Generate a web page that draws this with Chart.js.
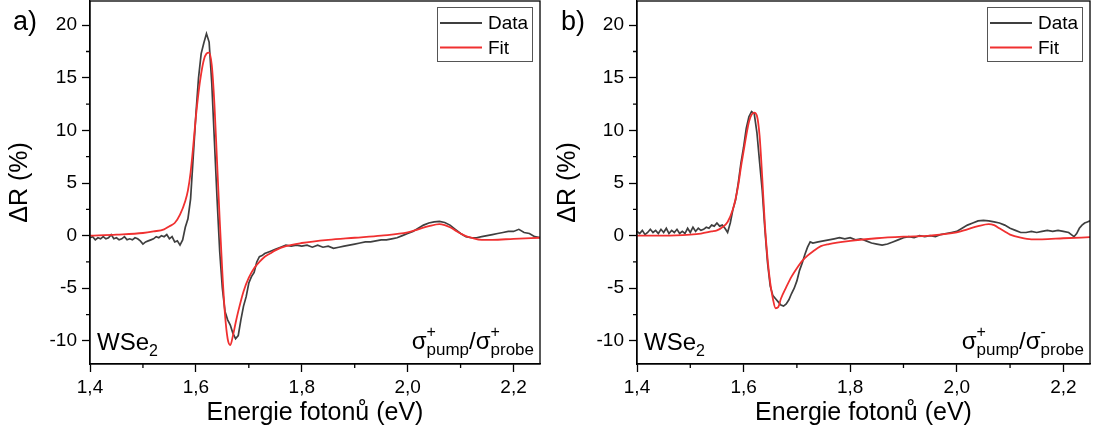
<!DOCTYPE html>
<html>
<head>
<meta charset="utf-8">
<script src="https://cdn.jsdelivr.net/npm/chart.js@4"></script>
<style>
body { margin: 0; background: #fff; }
#wrap { position: relative; width: 1096px; height: 439px; }
canvas { position: absolute; top: 0; }
</style>
</head>
<body>
<div id="wrap">
  <canvas id="chartA" width="548" height="439" style="left:0"></canvas>
  <canvas id="chartB" width="548" height="439" style="left:548px"></canvas>
</div>
<script>
// axis ticks
var xTicks = [1.4, 1.6, 1.8, 2.0, 2.2];
var xMinor = [1.5, 1.7, 1.9, 2.1];
var yTicks = [-10, -5, 0, 5, 10, 15, 20];
var yMinor = [-7.5, -2.5, 2.5, 7.5, 12.5, 17.5];

// panel a) - sigma+ / sigma+
var dataAE = [1.400,1.405,1.410,1.415,1.420,1.425,1.430,1.435,1.440,1.445,1.450,1.455,1.460,1.465,1.470,1.475,1.480,1.485,1.490,1.495,
  1.500,1.505,1.510,1.515,1.520,1.525,1.530,1.535,1.540,1.545,1.550,1.555,1.560,1.565,1.570,1.575,1.580,1.585,1.590,1.595,
  1.600,1.605,1.610,1.615,1.620,1.625,1.630,1.635,1.640,1.645,1.650,1.655,1.660,1.665,1.670,1.675,1.680,1.685,1.690,1.695,
  1.700,1.705,1.710,1.715,1.720,1.725,1.730,1.740,1.750,1.760,1.770,1.780,1.790,1.800,1.810,1.820,1.830,1.840,1.850,1.860,
  1.870,1.880,1.890,1.900,1.910,1.920,1.930,1.940,1.950,1.960,1.970,1.980,1.990,2.000,2.010,2.020,2.030,2.040,2.050,2.060,
  2.070,2.080,2.090,2.100,2.110,2.120,2.130,2.140,2.150,2.160,2.170,2.180,2.190,2.200,2.210,2.220,2.230,2.240,2.250];
var dataAV = [-0.2,-0.1,-0.4,-0.2,-0.3,-0.1,-0.3,-0.2,0.1,-0.3,-0.2,-0.4,-0.3,-0.1,-0.4,-0.3,-0.4,-0.2,-0.3,-0.5,
  -0.8,-0.6,-0.5,-0.4,-0.3,-0.1,-0.2,0.0,-0.1,0.1,-0.3,-0.1,-0.6,-0.5,-0.9,-0.4,0.8,1.6,3.5,7.5,
  11.5,15.0,17.3,18.3,19.2,18.4,14.5,9.0,3.5,-1.5,-5.0,-7.2,-8.0,-8.5,-9.3,-9.8,-9.5,-8.0,-6.7,-5.8,
  -4.5,-3.9,-3.5,-2.5,-2.0,-1.9,-1.7,-1.5,-1.3,-1.1,-0.9,-1.0,-0.9,-1.0,-0.9,-1.1,-0.9,-1.1,-1.0,-1.2,
  -1.1,-1.0,-0.9,-0.8,-0.7,-0.6,-0.6,-0.5,-0.4,-0.4,-0.3,-0.2,0.0,0.2,0.4,0.7,1.0,1.2,1.3,1.35,
  1.25,1.0,0.6,0.2,-0.1,-0.2,-0.2,-0.1,0.0,0.1,0.2,0.3,0.4,0.4,0.6,0.3,0.2,-0.1,-0.2];
var fitAE = [1.40,1.45,1.50,1.52,1.54,1.55,1.56,1.57,1.58,1.585,1.59,1.595,1.60,1.605,1.61,1.615,1.62,1.625,1.63,1.635,
  1.64,1.645,1.65,1.655,1.66,1.665,1.67,1.675,1.68,1.69,1.70,1.71,1.72,1.73,1.74,1.75,1.77,1.80,1.85,1.90,
  1.95,2.00,2.02,2.04,2.06,2.07,2.08,2.09,2.10,2.11,2.12,2.14,2.16,2.20,2.25];
var fitAV = [0.0,0.1,0.25,0.4,0.6,0.9,1.2,2.0,3.3,4.3,6.0,8.5,11.3,13.6,15.4,16.7,17.3,17.4,16.2,12.5,
  7.0,1.5,-3.5,-7.5,-9.8,-10.4,-9.5,-8.3,-7.2,-5.3,-4.0,-3.1,-2.5,-2.0,-1.7,-1.4,-1.0,-0.7,-0.4,-0.2,
  0.0,0.3,0.6,0.9,1.1,1.0,0.8,0.5,0.2,-0.05,-0.2,-0.4,-0.4,-0.3,-0.2];

// panel b) - sigma+ / sigma-
var dataBE = dataAE.slice(0, 103).concat([2.100,2.110,2.120,2.130,2.140,2.150,2.160,2.170,2.180,2.190,2.200,2.210,2.215,2.220,2.225,2.230,2.235,2.240,2.245,2.250]);
var dataBV = [0.4,0.2,0.5,0.1,0.3,0.6,0.3,0.5,0.2,0.6,0.3,0.7,0.2,0.5,0.3,0.6,0.2,0.4,0.2,0.7,
  0.3,0.8,0.4,0.7,0.5,0.6,0.8,0.7,1.0,0.9,1.2,0.9,1.0,0.7,0.3,1.2,2.5,3.4,5.0,6.9,
  8.4,10.2,11.3,11.8,11.6,9.8,7.0,4.3,0.6,-2.6,-4.8,-5.7,-6.0,-6.3,-6.6,-6.7,-6.5,-6.1,-5.5,-5.0,
  -4.3,-3.3,-2.6,-1.8,-1.1,-0.6,-0.7,-0.6,-0.5,-0.4,-0.3,-0.2,-0.3,-0.2,-0.4,-0.3,-0.5,-0.7,-0.8,-0.9,
  -0.8,-0.6,-0.4,-0.2,-0.1,-0.2,0.0,-0.1,0.0,-0.1,0.1,0.2,0.3,0.4,0.7,1.0,1.2,1.4,1.45,1.4,
  1.3,1.2,1.0,0.7,0.5,0.3,0.3,0.4,0.3,0.4,0.5,0.4,0.5,0.4,0.3,0.1,-0.1,0.2,0.7,1.0,1.2,1.3,1.4];
var fitBE = [1.40,1.45,1.50,1.52,1.54,1.55,1.56,1.57,1.58,1.585,1.59,1.595,1.60,1.605,1.61,1.615,1.62,1.625,1.63,1.635,
  1.64,1.645,1.65,1.655,1.66,1.665,1.67,1.68,1.69,1.70,1.71,1.72,1.73,1.745,1.76,1.80,1.85,1.90,1.95,2.00,
  2.02,2.04,2.06,2.07,2.08,2.09,2.10,2.12,2.14,2.16,2.20,2.25];
var fitBV = [0.0,0.0,0.1,0.2,0.4,0.5,0.8,1.3,2.5,3.5,4.8,6.5,8.0,9.5,10.8,11.5,11.7,11.4,9.5,5.5,
  1.0,-2.2,-4.5,-6.0,-6.9,-6.8,-6.0,-4.9,-3.9,-3.1,-2.4,-1.9,-1.5,-1.0,-0.8,-0.5,-0.25,-0.1,0.0,0.3,
  0.6,0.9,1.1,1.0,0.7,0.4,0.1,-0.2,-0.35,-0.35,-0.25,-0.15];

var FONT = "'Liberation Sans', Arial, sans-serif";

function pts(es, vs) {
  return es.map(function (e, i) { return { x: e, y: vs[i] }; });
}

function fmt(v) {
  return v.toFixed(1).replace('.', ',');
}

function drawRich(ctx, parts, x, y, alignRight) {
  // parts: {t, size, dy, stack}  stack=true -> drawn at same x as previous part
  var widths = [];
  var total = 0, prevW = 0;
  parts.forEach(function (p) {
    ctx.font = p.size + 'px ' + FONT;
    var w = ctx.measureText(p.t).width;
    widths.push(w);
    if (p.stack) { total += Math.max(0, w - prevW); prevW = Math.max(w, prevW); }
    else { total += w; prevW = w; }
  });
  var cx = alignRight ? x - total : x;
  var startX = cx, lastW = 0;
  ctx.fillStyle = '#000';
  ctx.textBaseline = 'alphabetic';
  ctx.textAlign = 'left';
  parts.forEach(function (p, i) {
    ctx.font = p.size + 'px ' + FONT;
    if (p.stack) {
      ctx.fillText(p.t, startX, y + (p.dy || 0));
      var w = Math.max(lastW, widths[i]);
      cx = startX + w;
      lastW = w;
    } else {
      startX = cx;
      ctx.fillText(p.t, cx, y + (p.dy || 0));
      cx += widths[i];
      lastW = widths[i];
    }
  });
}

var framePlugin = {
  id: 'frame',
  afterDraw: function (chart) {
    var ctx = chart.ctx;
    var a = chart.chartArea;
    var xs = chart.scales.x, ys = chart.scales.y;
    var cfg = chart.options.plugins.frame;
    ctx.save();
    ctx.strokeStyle = '#000';
    ctx.lineWidth = 1.3;
    ctx.strokeRect(a.left, a.top, a.right - a.left, a.bottom - a.top);
    // minor ticks
    ctx.beginPath();
    xMinor.forEach(function (v) {
      var px = xs.getPixelForValue(v);
      ctx.moveTo(px, a.bottom);
      ctx.lineTo(px, a.bottom + 4);
    });
    yMinor.forEach(function (v) {
      var py = ys.getPixelForValue(v);
      ctx.moveTo(a.left, py);
      ctx.lineTo(a.left - 4, py);
    });
    ctx.stroke();

    // legend
    var lx = a.right - 103, ly = a.top + 6, lw = 95, lh = 54;
    ctx.fillStyle = '#fff';
    ctx.fillRect(lx, ly, lw, lh);
    ctx.strokeStyle = '#555';
    ctx.lineWidth = 1;
    ctx.strokeRect(lx + 0.5, ly + 0.5, lw, lh);
    chart.data.datasets.forEach(function (ds, i) {
      var yy = ly + 16 + i * 24.5;
      ctx.strokeStyle = ds.borderColor;
      ctx.lineWidth = 2;
      ctx.beginPath();
      ctx.moveTo(lx + 3, yy);
      ctx.lineTo(lx + 45, yy);
      ctx.stroke();
      ctx.fillStyle = '#000';
      ctx.font = '19px ' + FONT;
      ctx.textBaseline = 'middle';
      ctx.textAlign = 'left';
      ctx.fillText(ds.label, lx + 51, yy + 1);
    });

    // panel letter
    ctx.font = '27px ' + FONT;
    ctx.fillStyle = '#000';
    ctx.textBaseline = 'alphabetic';
    ctx.textAlign = 'left';
    ctx.fillText(cfg.letter, 13, 30);

    // sample label
    drawRich(ctx, [{ t: 'WSe', size: 24 }, { t: '2', size: 16, dy: 6 }], a.left + 7, 350, false);

    // polarisation label
    drawRich(ctx, [
      { t: '\u03c3', size: 24 },
      { t: '+', size: 16, dy: -12 },
      { t: 'pump', size: 17, dy: 6, stack: true },
      { t: '/\u03c3', size: 24 },
      { t: cfg.probeSign, size: 16, dy: -12 },
      { t: 'probe', size: 17, dy: 6, stack: true }
    ], a.right - 6, 349, true);
    ctx.restore();
  }
};

function makeChart(id, dE, dV, fE, fV, letter, probeSign, yWidth, padRight) {
  return new Chart(document.getElementById(id), {
    type: 'line',
    data: {
      datasets: [
        { label: 'Data', data: pts(dE, dV), borderColor: '#3f3f3f', borderWidth: 1.7, pointRadius: 0, tension: 0, order: 2 },
        { label: 'Fit', data: pts(fE, fV), borderColor: '#f03030', borderWidth: 1.8, pointRadius: 0, cubicInterpolationMode: 'monotone', order: 1 }
      ]
    },
    options: {
      responsive: false,
      animation: false,
      layout: { padding: { left: 0, right: padRight, top: 1, bottom: 0 } },
      plugins: {
        legend: { display: false },
        tooltip: { enabled: false },
        frame: { letter: letter, probeSign: probeSign }
      },
      scales: {
        x: {
          type: 'linear',
          min: 1.4,
          max: 2.25,
          afterBuildTicks: function (s) { s.ticks = xTicks.map(function (v) { return { value: v }; }); },
          afterFit: function (s) { s.height = 75; s.paddingLeft = 0; s.paddingRight = 0; },
          ticks: { callback: fmt, color: '#000', font: { family: FONT, size: 19 }, padding: 4, maxRotation: 0, autoSkip: false },
          grid: { drawOnChartArea: false, drawTicks: true, tickLength: 8, tickColor: '#000', tickWidth: 1.3 },
          border: { display: true, color: '#000', width: 1.3 },
          title: { display: true, text: 'Energie fotonů (eV)', color: '#000', font: { family: FONT, size: 25 }, padding: { top: 0, bottom: 11 } }
        },
        y: {
          type: 'linear',
          min: -12.2,
          max: 22.3,
          afterBuildTicks: function (s) { s.ticks = yTicks.map(function (v) { return { value: v }; }); },
          afterFit: function (s) { s.width = yWidth; s.paddingTop = 0; s.paddingBottom = 0; },
          ticks: { color: '#000', font: { family: FONT, size: 19 }, padding: 5 },
          grid: { drawOnChartArea: false, drawTicks: true, tickLength: 8, tickColor: '#000', tickWidth: 1.3 },
          border: { display: true, color: '#000', width: 1.3 },
          title: { display: true, text: '\u0394R (%)', color: '#000', font: { family: FONT, size: 25 }, padding: { top: 5, bottom: 0 } }
        }
      }
    },
    plugins: [framePlugin]
  });
}

makeChart('chartA', dataAE, dataAV, fitAE, fitAV, 'a)', '+', 90, 8);
makeChart('chartB', dataBE, dataBV, fitBE, fitBV, 'b)', '-', 89, 6);
</script>
</body>
</html>
